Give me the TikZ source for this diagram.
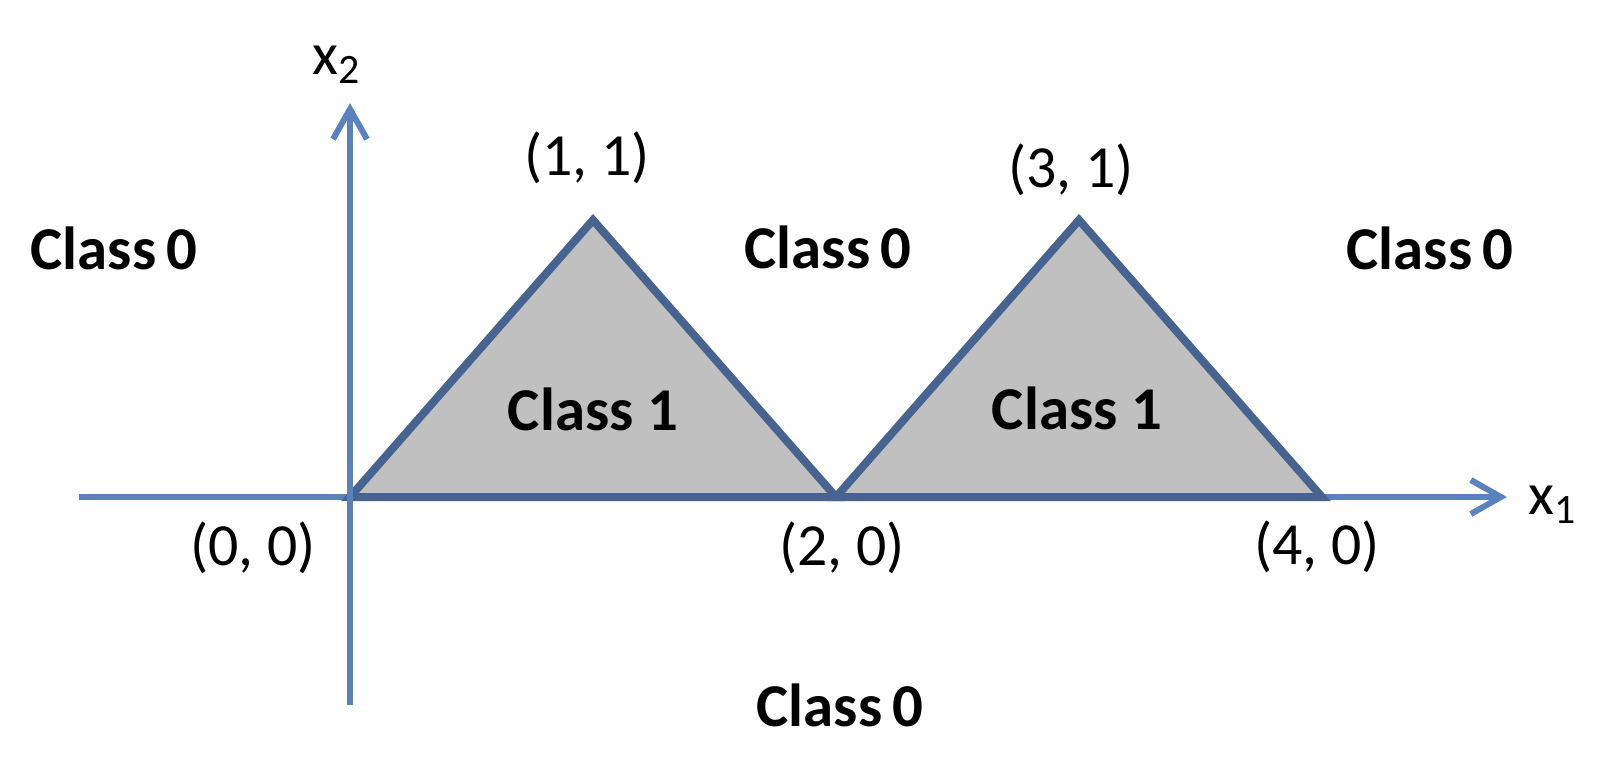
\documentclass[tikz,border=0pt]{standalone}
\usepackage{fontspec}
\setmainfont{Carlito}
\usepackage{tikz}
\usetikzlibrary{arrows.meta}
\definecolor{clsaxis}{HTML}{5A82BE}
\definecolor{clsedge}{HTML}{46648F}
\definecolor{clsgray}{HTML}{C0C0C0}
\tikzset{
  axisline/.style={clsaxis, line width=0.06cm, -{Straight Barb[length=0.3cm,width=0.34cm]}},
  region/.style={fill=clsgray, draw=clsedge, line width=0.08cm},
  clslabel/.style={font=\bfseries\fontsize{17.3}{20}\selectfont, inner sep=0pt},
  ptlabel/.style={font=\fontsize{17}{20}\selectfont, inner sep=0pt},
}
\begin{document}
\begin{tikzpicture}
  \useasboundingbox (0,0) rectangle (16.22,7.78);
  \begin{scope}[shift={(3.50,2.81)}, x=2.43cm, y=2.77cm]
    \coordinate (O) at (0,0);
    \coordinate (xl) at (-1.115,0);
    \coordinate (xr) at (4.761,0);
    \coordinate (yb) at (0,-0.751);
    \coordinate (yt) at (0,1.422);
    \draw[axisline] (xl) -- (xr);
    \foreach \a in {0,2}
      \draw[region] (\a,0) -- (\a+1,1) -- (\a+2,0) -- cycle;
    \draw[axisline] (yb) -- (yt);
  \end{scope}
  % axis names
  \node[ptlabel] (lx2) at (3.37,7.13) {x\textsubscript{2}};
  \node[ptlabel] (lx1) at (15.53,2.73) {x\textsubscript{1}};
  % corner points
  \node[ptlabel] (p11) at (5.87,6.20) {(1, 1)};
  \node[ptlabel] (p31) at (10.71,6.08) {(3, 1)};
  \node[ptlabel] (p00) at (2.53,2.30) {(0, 0)};
  \node[ptlabel] (p20) at (8.42,2.30) {(2, 0)};
  \node[ptlabel] (p40) at (13.17,2.31) {(4, 0)};
  % regions
  \node[clslabel] (c0a) at (1.14,5.30) {Class\,0};
  \node[clslabel] (c0b) at (8.28,5.31) {Class\,0};
  \node[clslabel] (c0c) at (14.30,5.30) {Class\,0};
  \node[clslabel] (c0d) at (8.40,0.73) {Class\,0};
  \node[clslabel] (c1a) at (5.93,3.69) {Class 1};
  \node[clslabel] (c1b) at (10.77,3.70) {Class 1};
\end{tikzpicture}
\end{document}
